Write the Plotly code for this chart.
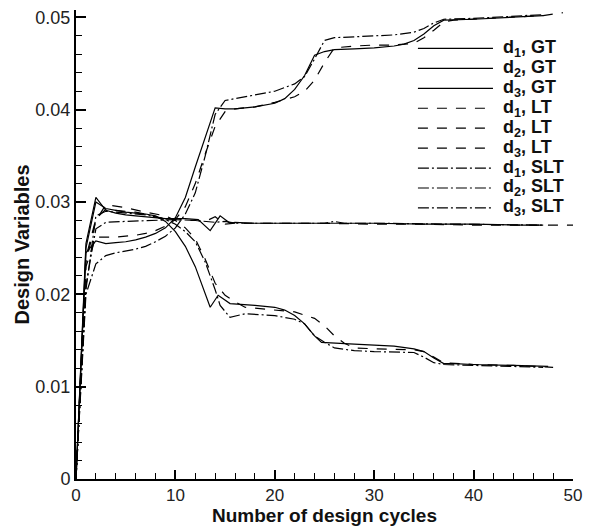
import plotly.graph_objects as go

# Design-variable histories for three variables under three schemes
# (GT = global, LT = local, SLT = semi-local), indexed by design cycle.
cycles_d1_gt = [0, 1, 2, 3, 4, 5, 6, 7, 8, 9, 10, 11, 12, 13, 14, 15, 16, 18, 20, 21, 22, 23, 24, 25, 26, 28, 30, 32, 33, 34, 35, 36, 37, 40, 44, 47]
d1_gt = [0, 0.0245, 0.0258, 0.0255, 0.0256, 0.0257, 0.0259, 0.0262, 0.0266, 0.0272, 0.0283, 0.0305, 0.0338, 0.0370, 0.0402,
         0.0401, 0.0401, 0.0403, 0.0407, 0.0412, 0.0422, 0.0437, 0.0459, 0.0463, 0.0465, 0.0466, 0.0467, 0.0469, 0.0471,
         0.0475, 0.0482, 0.0491, 0.0497, 0.0498, 0.0500, 0.0502]

cycles_d2_gt = [0, 1, 2, 3, 4, 5, 6, 7, 8, 9, 10, 11, 12.3, 13.5, 14.5, 15.5, 16, 18, 20, 25, 30, 35, 40, 45, 47]
d2_gt = [0, 0.0255, 0.0305, 0.0291, 0.0288, 0.0286, 0.0285, 0.0284, 0.0283, 0.0282, 0.0282, 0.0282, 0.0281, 0.0269,
         0.0285, 0.0277, 0.0278, 0.0277, 0.0277, 0.0277, 0.0277, 0.0276, 0.0276, 0.0275, 0.0275]

cycles_d3_gt = [0, 1, 2, 3, 4, 5, 6, 7, 8, 9, 10, 11, 12, 13, 13.5, 14.3, 15.5, 18, 20, 21, 22, 23, 24, 24.7, 26, 28, 30, 32, 34, 35, 36, 37, 38, 40, 44, 47.5]
d3_gt = [0, 0.0250, 0.0300, 0.0293, 0.0291, 0.0289, 0.0288, 0.0287, 0.0285, 0.0279, 0.0268, 0.0252, 0.0230, 0.0200,
         0.0186, 0.0199, 0.0190, 0.0188, 0.0186, 0.0183, 0.0177, 0.0168, 0.0155, 0.0148, 0.0147, 0.0146, 0.0145,
         0.0144, 0.0141, 0.0138, 0.0131, 0.0125, 0.0125, 0.0124, 0.0123, 0.0122]

cycles_d1_lt = [0, 1, 2, 3, 4, 5, 6, 7, 8, 9, 10, 11, 12, 13, 14, 15, 16, 18, 20, 22, 23, 24, 25, 26, 28, 30, 32, 34, 35, 36, 37, 38, 40, 44, 47, 49]
d1_lt = [0, 0.0230, 0.0262, 0.0262, 0.0262, 0.0263, 0.0264, 0.0266, 0.0269, 0.0274, 0.0281, 0.0295, 0.0320, 0.0352,
         0.0382, 0.0398, 0.0401, 0.0403, 0.0408, 0.0414, 0.0420, 0.0432, 0.0451, 0.0467, 0.0469, 0.0470, 0.0470,
         0.0472, 0.0478, 0.0486, 0.0495, 0.0497, 0.0498, 0.0500, 0.0502, 0.0505]

cycles_d2_lt = [0, 1, 2, 3, 4, 5, 6, 7, 8, 9, 10, 12, 13, 14, 15, 16, 18, 20, 25, 30, 35, 40, 45, 50]
d2_lt = [0, 0.0240, 0.0282, 0.0292, 0.0291, 0.0290, 0.0289, 0.0287, 0.0284, 0.0282, 0.0281, 0.0280, 0.0279, 0.0284,
         0.0276, 0.0277, 0.0277, 0.0277, 0.0277, 0.0276, 0.0276, 0.0275, 0.0275, 0.0275]

cycles_d3_lt = [0, 1, 2, 3, 5, 7, 9, 10, 11, 12, 13, 14, 15, 16, 17, 20, 22, 24, 25, 26, 27, 28, 30, 34, 35, 36, 37, 40, 44, 48]
d3_lt = [0, 0.0235, 0.0280, 0.0297, 0.0294, 0.0289, 0.0285, 0.0280, 0.0272, 0.0260, 0.0238, 0.0212, 0.0199, 0.0192,
         0.0186, 0.0183, 0.0181, 0.0174, 0.0166, 0.0155, 0.0147, 0.0142, 0.0141, 0.0140, 0.0138, 0.0132, 0.0126,
         0.0124, 0.0123, 0.0121]

cycles_d1_slt = [0, 1, 2, 3, 4, 5, 6, 7, 8, 9, 10, 11, 12, 13, 14, 15, 16, 18, 20, 22, 23, 24, 25, 26, 28, 30, 32, 34, 35, 36, 37, 40, 44, 47]
d1_slt = [0, 0.0200, 0.0233, 0.0242, 0.0245, 0.0247, 0.0249, 0.0252, 0.0257, 0.0263, 0.0272, 0.0287, 0.0310, 0.0350,
          0.0395, 0.0410, 0.0412, 0.0416, 0.0420, 0.0428, 0.0436, 0.0455, 0.0475, 0.0478, 0.0479, 0.0480, 0.0481,
          0.0484, 0.0488, 0.0494, 0.0498, 0.0499, 0.0501, 0.0503]

cycles_d2_slt = [0, 1, 2, 3, 5, 7, 9, 10, 12, 14, 15, 16, 20, 25, 26, 27, 30, 40, 47]
d2_slt = [0, 0.0210, 0.0271, 0.0278, 0.0279, 0.0280, 0.0281, 0.0281, 0.0280, 0.0278, 0.0279, 0.0277, 0.0277, 0.0277,
          0.0279, 0.0277, 0.0277, 0.0276, 0.0275]

cycles_d3_slt = [0, 1, 2, 3, 4, 5, 6, 7, 8, 9, 10, 11, 12, 13, 14, 14.5, 15.5, 17, 20, 22, 23, 24, 25, 26, 28, 30, 34, 35, 36, 37, 40, 44, 47]
d3_slt = [0, 0.0205, 0.0285, 0.0290, 0.0289, 0.0288, 0.0287, 0.0286, 0.0284, 0.0281, 0.0276, 0.0268, 0.0257, 0.0235,
          0.0205, 0.0188, 0.0175, 0.0179, 0.0177, 0.0173, 0.0168, 0.0155, 0.0148, 0.0142, 0.0139, 0.0138, 0.0137,
          0.0132, 0.0126, 0.0124, 0.0123, 0.0122, 0.0121]

x_ticks = [0, 10, 20, 30, 40, 50]
y_ticks = [0, 0.01, 0.02, 0.03, 0.04, 0.05]
y_tick_text = ["0", "0.01", "0.02", "0.03", "0.04", "0.05"]

DASH = {"GT": "solid", "LT": "10px,9px", "SLT": "11px,3px,2px,3px"}

series = [
    ("1", "GT", cycles_d1_gt, d1_gt),
    ("2", "GT", cycles_d2_gt, d2_gt),
    ("3", "GT", cycles_d3_gt, d3_gt),
    ("1", "LT", cycles_d1_lt, d1_lt),
    ("2", "LT", cycles_d2_lt, d2_lt),
    ("3", "LT", cycles_d3_lt, d3_lt),
    ("1", "SLT", cycles_d1_slt, d1_slt),
    ("2", "SLT", cycles_d2_slt, d2_slt),
    ("3", "SLT", cycles_d3_slt, d3_slt),
]

FONT = "Liberation Sans, Arial, sans-serif"

fig = go.Figure()
for idx, scheme, xs, ys in series:
    fig.add_trace(go.Scatter(
        x=xs, y=ys, mode="lines",
        name=f"d{idx}, {scheme}",
        line=dict(color="black", width=1.2, dash=DASH[scheme]),
        showlegend=False,
    ))

# Hand-built legend: long line samples with bold labels
leg_x0, leg_x1, leg_tx = 0.688, 0.839, 0.855
leg_top, leg_step = 0.918, 0.0425
for k, (idx, scheme, _, _) in enumerate(series):
    yk = leg_top - k * leg_step
    fig.add_shape(type="line", xref="paper", yref="paper",
                  x0=leg_x0, x1=leg_x1, y0=yk, y1=yk,
                  line=dict(color="black", width=1.2, dash=DASH[scheme]))
    fig.add_annotation(xref="paper", yref="paper", x=leg_tx, y=yk,
                       xanchor="left", yanchor="middle", showarrow=False,
                       text=f"<b>d<sub>{idx}</sub>, {scheme}</b>",
                       font=dict(family=FONT, size=18, color="#111"))

fig.update_layout(
    width=596, height=529,
    margin=dict(l=76, r=23, t=8, b=50),
    paper_bgcolor="white", plot_bgcolor="white",
    font=dict(family=FONT, color="#222"),
)
fig.update_xaxes(
    range=[0, 50], tickvals=x_ticks, ticks="inside", ticklen=9, tickwidth=1.5, tickcolor="black",
    minor=dict(dtick=2, ticks="inside", ticklen=6, tickwidth=1.2, tickcolor="black"),
    showline=True, linecolor="black", linewidth=2, showgrid=False, zeroline=False,
    tickfont=dict(size=17, color="#222"),
    title=dict(text="<b>Number of design cycles</b>", font=dict(size=19, color="#111"), standoff=2),
)
fig.update_yaxes(
    range=[0, 0.0508], tickvals=y_ticks, ticktext=y_tick_text, ticks="inside", ticklen=10, tickwidth=1.5,
    tickcolor="black",
    minor=dict(dtick=0.002, ticks="inside", ticklen=6, tickwidth=1.2, tickcolor="black"),
    showline=True, linecolor="black", linewidth=2, showgrid=False, zeroline=False,
    tickfont=dict(size=18, color="#222"),
    title=dict(text="<b>Design Variables</b>", font=dict(size=20, color="#111"), standoff=0),
)

fig.write_html("out.html")
